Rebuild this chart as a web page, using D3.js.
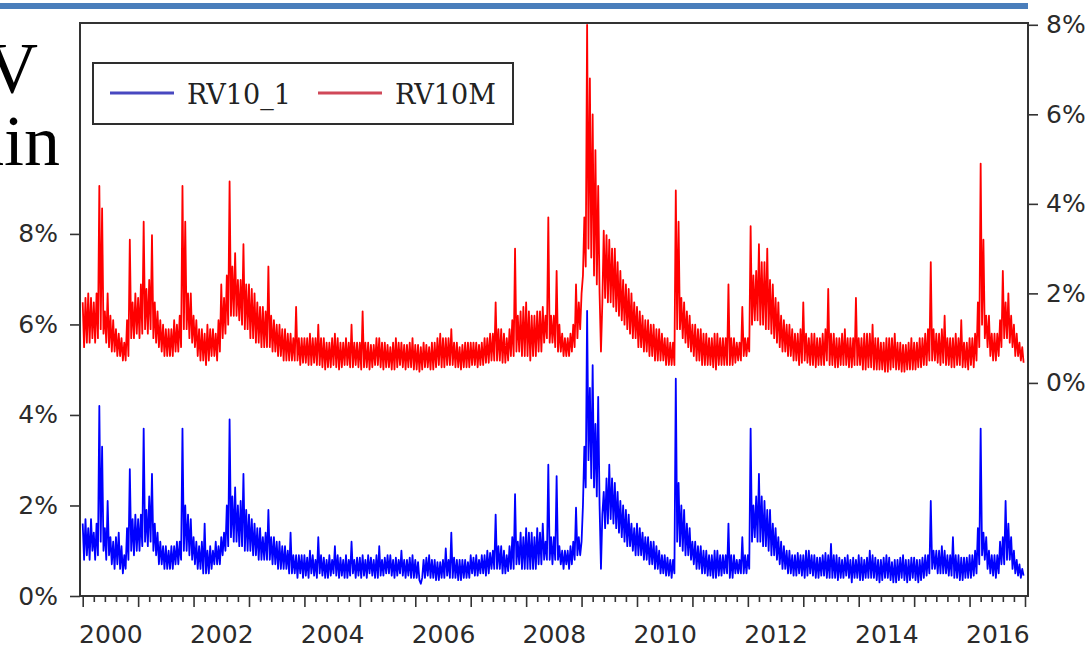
<!DOCTYPE html>
<html>
<head>
<meta charset="utf-8">
<script src="https://cdn.jsdelivr.net/npm/d3@7"></script>
<style>
  html, body { margin: 0; padding: 0; background: #ffffff; }
  svg { display: block; }
</style>
</head>
<body>
<svg id="chart" width="1092" height="648"></svg>
<script>
// ---- data (percent), one value every 0.025 year starting 2000.0 (40 per year) ----
const startYear = 2000;
const stepYears = 0.025;

const rv10_1 = [
  1.6,0.8,1.7,0.9,1.5,0.8,1.7,1.0,1.4,0.8,1.6,0.9,4.2,1.2,3.3,1.0,1.5,0.8,2.1,0.9, 1.3,0.7,1.2,0.6,1.3,0.7,1.4,0.6,1.1,0.5,0.9,0.6,1.5,0.8,2.8,1.0,1.7,0.9,1.8,1.0,
  1.7,1.0,1.8,1.1,3.7,1.2,1.9,1.1,2.2,1.2,2.7,1.0,1.6,0.9,1.4,0.7,1.2,0.7,1.1,0.6, 1.1,0.6,1.0,0.6,1.1,0.6,1.1,0.7,1.2,0.7,1.2,0.8,3.7,1.0,2.0,1.0,1.8,0.9,1.7,0.8,
  1.3,0.7,1.2,0.6,1.1,0.6,1.2,0.5,1.6,0.5,1.0,0.5,1.1,0.6,1.0,0.7,1.2,0.7,1.1,0.7, 1.3,0.9,1.4,1.0,2.0,1.1,3.9,1.3,2.2,1.2,2.4,1.2,2.0,1.1,2.1,1.1,2.7,1.0,1.9,1.0,
  1.8,1.0,1.7,0.9,1.6,0.9,1.5,0.8,1.5,0.8,1.3,0.8,1.4,0.8,1.9,0.8,1.3,0.7,1.3,0.7, 1.2,0.6,1.2,0.6,1.1,0.6,1.1,0.6,1.0,0.5,1.4,0.5,0.9,0.5,0.9,0.4,0.9,0.5,0.9,0.4,
  0.9,0.45,0.85,0.4,1.0,0.5,0.9,0.45,0.8,0.4,1.3,0.5,0.9,0.45,0.85,0.4,0.8,0.4,0.9,0.45, 0.8,0.5,1.1,0.45,0.9,0.4,0.85,0.45,0.8,0.4,0.9,0.4,0.8,0.45,1.2,0.5,0.8,0.4,0.85,0.45,
  0.85,0.4,0.9,0.45,0.8,0.4,0.9,0.5,0.85,0.45,0.8,0.4,0.9,0.4,1.1,0.45,0.8,0.45,0.85,0.5, 0.9,0.5,0.9,0.45,0.8,0.4,0.85,0.45,0.8,0.5,1.0,0.45,0.8,0.4,0.8,0.45,0.85,0.4,0.9,0.4,
  0.8,0.4,0.75,0.35,0.27,0.4,0.8,0.4,0.85,0.45,0.9,0.4,0.8,0.4,0.8,0.35,0.75,0.35,0.75,0.4, 0.8,0.4,1.05,0.45,0.8,0.4,1.4,0.4,0.85,0.4,0.8,0.35,0.8,0.35,0.8,0.4,0.8,0.4,0.75,0.4,
  0.9,0.5,0.85,0.45,0.9,0.45,0.8,0.5,0.9,0.5,0.9,0.45,1.0,0.5,0.95,0.6,1.0,0.6,1.8,0.6, 1.1,0.6,1.1,0.5,1.0,0.5,0.9,0.55,1.1,0.6,1.3,0.6,2.25,0.7,1.2,0.7,1.4,0.6,1.3,0.6,
  1.5,0.6,1.4,0.6,1.4,0.6,1.3,0.6,1.5,0.7,1.4,0.7,1.6,0.8,1.2,0.8,2.9,0.8,1.3,0.7, 1.3,0.8,2.65,0.8,1.1,0.7,1.0,0.6,1.0,0.7,1.0,0.6,1.1,0.7,1.2,0.8,1.95,0.9,1.3,0.9,
  1.2,2.0,3.3,2.4,6.3,3.0,4.6,2.6,5.1,2.4,3.8,2.2,4.4,2.0,0.6,1.8,2.3,1.5,2.6,1.6, 2.9,1.7,2.6,1.6,2.5,1.5,2.3,1.4,2.1,1.3,2.0,1.2,1.9,1.1,1.8,1.1,1.6,1.0,1.5,0.9,
  1.6,0.9,1.5,0.9,1.4,0.8,1.3,0.8,1.3,0.7,1.2,0.7,1.2,0.6,1.1,0.6,1.0,0.5,0.9,0.5, 0.9,0.45,0.85,0.45,0.8,0.4,0.8,0.5,4.8,1.2,2.5,1.1,2.0,1.0,1.9,0.9,1.6,0.9,1.5,0.8,
  1.2,0.7,1.2,0.6,1.1,0.6,1.1,0.5,1.0,0.5,1.0,0.45,0.9,0.45,0.9,0.4,1.0,0.4,1.0,0.45, 0.9,0.45,0.9,0.5,0.9,0.5,1.6,0.4,0.9,0.4,0.9,0.5,0.8,0.5,0.8,0.5,1.3,0.5,0.9,0.5,
  0.9,0.6,3.7,1.2,2.0,1.3,2.2,1.2,2.7,1.2,2.2,1.1,2.1,1.1,1.9,1.0,1.9,0.9,1.6,0.9, 1.5,0.8,1.3,0.7,1.2,0.6,1.1,0.6,1.0,0.5,1.0,0.5,0.9,0.45,0.9,0.45,0.95,0.5,0.9,0.45,
  0.9,0.4,1.0,0.45,1.0,0.5,0.9,0.45,0.9,0.4,0.85,0.4,0.85,0.45,0.9,0.45,0.95,0.4,0.9,0.4, 1.15,0.4,0.9,0.4,0.9,0.35,0.85,0.4,0.8,0.4,0.85,0.45,0.9,0.4,0.8,0.3,0.85,0.4,0.8,0.4,
  0.9,0.35,0.85,0.35,0.8,0.4,0.85,0.4,1.0,0.4,0.9,0.4,0.85,0.35,0.8,0.3,0.8,0.35,0.85,0.4, 0.9,0.4,0.85,0.35,0.75,0.3,0.8,0.3,0.8,0.35,0.85,0.4,0.9,0.35,0.8,0.3,0.8,0.35,0.85,0.4,
  0.85,0.35,0.8,0.3,0.8,0.35,0.85,0.4,0.9,0.45,0.9,0.5,2.1,0.6,1.0,0.6,1.0,0.5,1.0,0.5, 1.1,0.5,1.0,0.5,0.9,0.45,0.9,0.45,1.3,0.4,0.9,0.4,0.9,0.35,0.85,0.35,0.85,0.4,0.85,0.4,
  0.9,0.4,0.9,0.45,1.0,0.5,1.5,0.7,3.7,0.9,1.4,0.8,1.3,0.6,1.0,0.5,0.9,0.45,0.9,0.4, 0.9,0.5,1.2,0.7,1.3,0.7,2.1,0.8,1.6,0.8,1.3,0.6,1.0,0.5,0.8,0.45,0.7,0.4,0.6,0.45
];

const rv10M = [
  1.8,0.8,1.9,0.9,2.0,0.9,1.9,1.0,1.8,0.9,2.0,1.0,4.4,1.2,3.9,1.1,1.6,0.9,2.0,0.8, 1.5,0.7,1.4,0.7,1.2,0.6,1.1,0.6,1.0,0.5,0.9,0.5,1.4,0.6,3.2,1.0,1.8,1.0,2.0,1.1,
  1.9,1.0,2.2,1.1,3.6,1.2,2.1,1.1,2.3,1.2,3.3,1.0,1.8,0.9,1.6,0.8,1.4,0.7,1.3,0.6, 1.2,0.6,1.2,0.6,1.2,0.6,1.4,0.7,1.3,0.7,1.5,0.8,4.4,1.2,3.6,1.2,2.0,1.0,2.0,0.9,
  1.5,0.8,1.4,0.6,1.2,0.5,1.2,0.5,1.1,0.4,1.3,0.5,1.2,0.6,1.2,0.6,1.1,0.5,1.4,0.7, 2.2,1.0,1.9,1.1,2.4,1.3,4.5,1.5,2.6,1.5,2.9,1.5,2.3,1.4,2.3,1.3,3.1,1.2,2.2,1.2,
  2.2,1.0,2.1,1.0,2.0,0.9,1.8,0.9,1.7,0.8,1.7,0.8,1.6,0.8,2.6,0.8,1.5,0.7,1.4,0.7, 1.3,0.6,1.3,0.6,1.2,0.5,1.2,0.5,1.1,0.5,1.1,0.5,1.0,0.5,1.7,0.5,1.0,0.4,1.0,0.45,
  1.0,0.45,1.0,0.4,1.1,0.4,1.0,0.45,1.0,0.4,1.3,0.4,1.0,0.35,1.0,0.3,0.9,0.35,0.9,0.35, 1.0,0.4,1.1,0.35,1.0,0.3,0.9,0.35,0.9,0.4,1.0,0.4,0.9,0.35,1.3,0.35,0.9,0.4,0.9,0.35,
  0.9,0.3,1.6,0.35,0.9,0.35,0.9,0.3,0.85,0.35,0.85,0.4,1.0,0.4,1.0,0.35,0.9,0.3,0.9,0.35, 0.85,0.35,0.8,0.3,0.9,0.3,1.0,0.35,0.9,0.4,0.9,0.35,0.85,0.3,0.85,0.35,0.9,0.35,1.0,0.3,
  0.85,0.3,0.85,0.25,0.8,0.3,0.9,0.35,0.85,0.35,0.8,0.3,0.9,0.3,0.9,0.35,1.0,0.4,1.1,0.35, 1.0,0.35,1.0,0.4,1.0,0.4,1.2,0.4,0.9,0.35,0.9,0.35,0.8,0.3,0.85,0.35,0.9,0.35,0.9,0.35,
  0.9,0.4,0.9,0.4,0.9,0.35,0.85,0.4,0.9,0.4,1.0,0.45,1.0,0.45,1.1,0.5,1.1,0.5,1.8,0.5, 1.2,0.5,1.2,0.45,1.1,0.45,1.0,0.5,1.2,0.6,1.4,0.6,3.0,0.7,1.5,0.7,1.6,0.6,1.7,0.6,
  1.8,0.6,1.6,0.5,1.5,0.6,1.5,0.6,1.6,0.7,1.6,0.7,1.7,0.9,1.5,1.0,3.7,0.9,1.5,0.9, 1.5,0.8,2.5,0.7,1.3,0.7,1.1,0.6,1.0,0.6,1.0,0.6,1.1,0.7,1.3,0.8,2.2,1.0,1.8,1.2,
  2.0,2.4,3.7,2.6,8.0,3.0,6.8,2.8,6.0,2.4,5.2,2.2,4.4,2.0,0.7,1.8,3.4,1.9,3.3,1.8, 3.2,1.8,3.0,1.7,3.0,1.6,2.7,1.5,2.5,1.4,2.3,1.3,2.2,1.2,2.1,1.1,2.0,1.0,1.8,1.0,
  1.7,0.8,1.6,0.8,1.5,0.7,1.4,0.7,1.4,0.6,1.3,0.6,1.3,0.5,1.2,0.5,1.2,0.5,1.1,0.5, 1.0,0.4,1.0,0.4,0.9,0.4,0.9,0.4,4.3,1.2,3.6,1.2,1.9,1.0,1.8,0.9,1.6,0.8,1.5,0.7,
  1.3,0.6,1.3,0.5,1.2,0.5,1.2,0.4,1.1,0.4,1.1,0.4,1.0,0.4,1.0,0.35,1.1,0.3,1.1,0.4, 1.0,0.4,1.0,0.4,1.0,0.4,2.2,0.4,1.0,0.4,1.0,0.45,0.9,0.5,0.9,0.5,1.7,0.6,1.0,0.6,
  1.0,0.7,3.5,1.3,2.4,1.4,2.5,1.4,3.1,1.3,2.7,1.3,2.7,1.2,3.0,1.2,2.3,1.1,2.2,1.0, 1.9,0.9,1.8,0.8,1.5,0.7,1.4,0.7,1.3,0.6,1.3,0.6,1.2,0.5,1.1,0.5,1.1,0.4,1.2,0.45,
  1.8,0.5,1.1,0.45,1.0,0.4,1.1,0.4,1.1,0.35,1.0,0.4,1.0,0.4,1.1,0.4,1.2,0.5,2.1,0.4, 1.1,0.4,1.1,0.35,1.0,0.35,1.0,0.4,1.1,0.4,1.2,0.4,1.0,0.35,1.0,0.35,1.0,0.4,1.9,0.4,
  1.0,0.4,1.0,0.3,1.1,0.3,1.1,0.35,1.1,0.35,1.3,0.3,1.0,0.3,1.0,0.3,0.9,0.3,0.9,0.25, 1.0,0.25,1.0,0.3,1.0,0.35,1.1,0.3,0.9,0.3,0.9,0.25,0.85,0.25,0.85,0.3,0.9,0.3,1.0,0.3,
  0.9,0.3,0.9,0.35,1.0,0.35,1.0,0.4,1.1,0.4,1.2,0.5,2.7,0.5,1.2,0.5,1.1,0.45,1.1,0.4, 1.2,0.45,1.5,0.4,1.0,0.4,1.0,0.35,1.0,0.35,1.1,0.4,1.0,0.4,1.4,0.35,0.9,0.35,0.9,0.3,
  1.0,0.4,1.0,0.35,1.1,0.5,1.8,0.8,4.9,1.3,3.2,1.0,1.5,0.8,1.5,0.6,1.1,0.5,1.1,0.5, 1.1,0.6,1.4,0.8,2.5,1.0,1.8,1.0,2.0,0.9,1.5,0.8,1.3,0.6,1.1,0.6,0.9,0.5,0.8,0.45
];

const seriesNames = ["RV10_1", "RV10M"];
const leftTicks = [0, 2, 4, 6, 8];
const rightTicks = [0, 2, 4, 6, 8];
const xLabelYears = [2000, 2002, 2004, 2006, 2008, 2010, 2012, 2014, 2016];
const xLabels = ["2000", "2002", "2004", "2006", "2008", "2010", "2012", "2014", "2016"];
const slideText = ["RV", "ain"];

// ---- layout ----
const svg = d3.select("#chart");
const plot = { left: 80, right: 1028, top: 23, bottom: 596 };
const axisColor = "#333333";
const labelFont = "'DejaVu Sans', Verdana, sans-serif";

const x = d3.scaleLinear().domain([2000, 2017]).range([82.7, 1025]);
const yL = d3.scaleLinear().domain([0, 12.66]).range([plot.bottom, plot.top]);
const yR = d3.scaleLinear().domain([-4.76, 8.04]).range([plot.bottom, plot.top]);

// slide decoration
svg.append("rect").attr("x", 0).attr("y", 3).attr("width", 1028).attr("height", 6).attr("fill", "#4a7ebb");
svg.append("text").attr("x", 38).attr("y", 92).attr("text-anchor", "end")
  .attr("font-family", "'Liberation Serif', 'Times New Roman', serif").attr("font-size", 72).attr("fill", "#000")
  .text(slideText[0]);
svg.append("text").attr("x", 60).attr("y", 165).attr("text-anchor", "end")
  .attr("font-family", "'Liberation Serif', 'Times New Roman', serif").attr("font-size", 72).attr("fill", "#000")
  .text(slideText[1]);

// clip
svg.append("defs").append("clipPath").attr("id", "clip")
  .append("rect").attr("x", plot.left).attr("y", plot.top)
  .attr("width", plot.right - plot.left).attr("height", plot.bottom - plot.top);

const toPoints = arr => arr.map((v, i) => ({ t: startYear + i * stepYears, v: v }));

const lineR = d3.line().x(d => x(d.t)).y(d => yR(d.v));
const lineL = d3.line().x(d => x(d.t)).y(d => yL(d.v));

const g = svg.append("g").attr("clip-path", "url(#clip)");
g.append("path").datum(toPoints(rv10M)).attr("d", lineR)
  .attr("fill", "none").attr("stroke", "#ff0000").attr("stroke-width", 1.8).attr("stroke-linejoin", "round");
g.append("path").datum(toPoints(rv10_1)).attr("d", lineL)
  .attr("fill", "none").attr("stroke", "#0000ff").attr("stroke-width", 1.8).attr("stroke-linejoin", "round");

// frame
svg.append("rect").attr("x", plot.left).attr("y", plot.top)
  .attr("width", plot.right - plot.left).attr("height", plot.bottom - plot.top)
  .attr("fill", "none").attr("stroke", axisColor).attr("stroke-width", 2);

function styleAxis(sel) {
  sel.select(".domain").remove();
  sel.selectAll(".tick line").attr("stroke", axisColor).attr("stroke-width", 1.6);
  sel.selectAll(".tick text").attr("fill", "#2b2b2b").attr("font-family", labelFont).attr("font-size", 25);
}

// left axis
svg.append("g").attr("transform", `translate(${plot.left},0)`)
  .call(d3.axisLeft(yL).tickValues(leftTicks).tickSize(10).tickPadding(12).tickFormat(d => d + "%"))
  .call(styleAxis);

// right axis
svg.append("g").attr("transform", `translate(${plot.right + 1},0)`)
  .call(d3.axisRight(yR).tickValues(rightTicks).tickSize(9).tickPadding(8).tickFormat(d => d + "%"))
  .call(styleAxis);

// bottom axis: yearly major ticks, minor ticks, labels centred in year
const majorYears = d3.range(2000, 2018);
const minorYears = [];
majorYears.slice(0, -1).forEach(yr => { [0.2, 0.4, 0.6, 0.8].forEach(f => minorYears.push(yr + f)); });

svg.append("g").attr("transform", `translate(0,${plot.bottom})`)
  .call(d3.axisBottom(x).tickValues(majorYears).tickSize(11).tickFormat(""))
  .call(styleAxis);
svg.append("g").attr("transform", `translate(0,${plot.bottom})`)
  .call(d3.axisBottom(x).tickValues(minorYears).tickSize(6).tickFormat(""))
  .call(styleAxis);
const lab = svg.append("g").attr("transform", `translate(0,${plot.bottom})`)
  .call(d3.axisBottom(x).tickValues(xLabelYears.map(v => v + 0.5)).tickSize(0)
    .tickFormat((d, i) => xLabels[i]))
  .call(styleAxis);
lab.selectAll(".tick text").attr("y", 47).attr("dy", 0);

// legend
const lg = svg.append("g");
lg.append("rect").attr("x", 93).attr("y", 63).attr("width", 420).attr("height", 61)
  .attr("fill", "#fff").attr("stroke", "#2e2e2e").attr("stroke-width", 2);
const legendColors = ["#4848c0", "#d04858"];
const legendLineX = [110, 318];
seriesNames.forEach((name, i) => {
  lg.append("line").attr("x1", legendLineX[i]).attr("x2", legendLineX[i] + 64)
    .attr("y1", 93).attr("y2", 93).attr("stroke", legendColors[i]).attr("stroke-width", 3);
  lg.append("text").attr("x", legendLineX[i] + 77).attr("y", 104)
    .attr("font-family", "'DejaVu Serif', serif").attr("font-size", 27).attr("fill", "#222")
    .text(name);
});
</script>
</body>
</html>
